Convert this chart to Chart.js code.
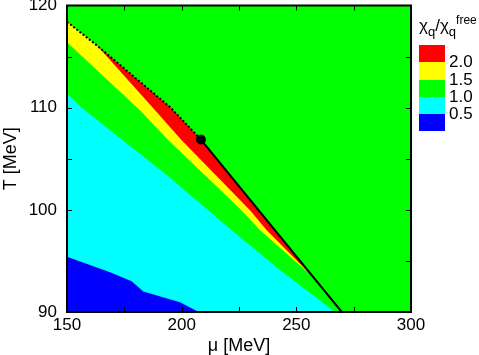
<!DOCTYPE html>
<html lang="en">
<head>
  <meta charset="UTF-8">
  <title>Susceptibility ratio</title>
  <script src="https://cdn.jsdelivr.net/npm/chart.js"></script>
  <style>
    body {
      margin: 0;
      background: #fff;
      font-family: "Liberation Sans", Arial, sans-serif;
    }
    .wrap {
      position: relative;
      width: 479px;
      height: 355px;
    }
    .legend-title {
      position: absolute;
      left: 419px;
      top: 16px;
      font-size: 17px;
      line-height: 20px;
      white-space: nowrap;
      color: #000;
    }
    .legend-title .sub {
      position: relative;
      top: 5px;
      font-size: 13px;
    }
    .legend-title .sup {
      position: relative;
      top: -7px;
      font-size: 12px;
    }
    .swatch {
      position: absolute;
      left: 419px;
      width: 26px;
    }
    .level {
      position: absolute;
      left: 449px;
      font-size: 17px;
      line-height: 17px;
      color: #000;
    }
  </style>
</head>
<body>
  <div class="wrap">
    <canvas id="chart" width="479" height="355"></canvas>
    <div class="legend-title">&chi;<span class="sub">q</span>/&chi;<span class="sub">q</span><span class="sup">free</span></div>
    <div id="legend"></div>
  </div>

  <script>
    // axis ranges and ticks
    const muMin = 150, muMax = 300;
    const tMin = 90, tMax = 120;
    const muLabels = [150, 200, 250, 300];
    const tLabels = [90, 100, 110, 120];

    // crossover line (dotted) and first-order line (solid), critical end point
    const crossMu = [150, 163, 180.4, 194.9, 208.4];
    const crossT = [118.4, 116.1, 112.8, 110.06, 106.88];
    const firstMu = [208.4, 269.8];
    const firstT = [106.88, 90];
    const cepMu = [208.4];
    const cepT = [106.88];

    // upper edges of each colour region (filled down to T = 90)
    const redTopMu = [150, 163, 180.4, 194.9, 208.4, 269.8];
    const redTopT = [118.4, 116.1, 112.8, 110.06, 106.88, 90];
    const yellowTopMu = [150, 163, 188.4, 200.0, 229.8, 237.1, 257, 269.8];
    const yellowTopT = [118.4, 116.1, 109.74, 106.8, 99.97, 98.0, 93.5, 90];
    const greenTopMu = [150, 181.8, 194.2, 225.4, 234.2, 257, 269.8];
    const greenTopT = [116.4, 109.74, 106.8, 100.1, 98.0, 93.5, 90];
    const cyanTopMu = [150, 156.4, 193.5, 221.8, 242.9, 266.9];
    const cyanTopT = [111.4, 110.0, 103.4, 98.0, 94.1, 90];
    const blueTopMu = [150, 168.8, 178.2, 183.3, 199.3, 207.5];
    const blueTopT = [95.4, 93.9, 93.0, 92.0, 90.95, 90];

    // legend
    const levelLabels = ['2.0', '1.5', '1.0', '0.5'];
    const levelColors = ['#ff0000', '#ffff00', '#00ff00', '#00ffff', '#0000ff'];

    const pts = (xs, ys) => xs.map((x, i) => ({ x: x, y: ys[i] }));

    function area(xs, ys, color, order) {
      return {
        data: pts(xs, ys),
        borderWidth: 0,
        borderColor: color,
        backgroundColor: color,
        pointRadius: 0,
        fill: 'start',
        order: order
      };
    }

    const datasets = [
      area([muMin, muMax], [tMax, tMax], '#00ff00', 10),
      area(redTopMu, redTopT, '#ff0000', 9),
      area(yellowTopMu, yellowTopT, '#ffff00', 8),
      area(greenTopMu, greenTopT, '#00ff00', 7),
      area(cyanTopMu, cyanTopT, '#00ffff', 6),
      area(blueTopMu, blueTopT, '#0000ff', 5),
      {
        data: pts(crossMu, crossT),
        borderColor: '#000',
        borderWidth: 2,
        borderDash: [2, 2],
        pointRadius: 0,
        fill: false,
        order: 2
      },
      {
        data: pts(firstMu, firstT),
        borderColor: '#000',
        borderWidth: 2,
        pointRadius: 0,
        fill: false,
        order: 1
      },
      {
        data: pts(cepMu, cepT),
        showLine: false,
        pointRadius: 4.5,
        pointBackgroundColor: '#000',
        pointBorderColor: '#000',
        fill: false,
        order: 0
      }
    ];

    // frame and inward tick marks on all four sides
    const framePlugin = {
      id: 'frame',
      afterDraw(chart) {
        const ctx = chart.ctx;
        const a = chart.chartArea;
        const xs = chart.scales.x, ys = chart.scales.y;
        ctx.save();
        ctx.strokeStyle = '#000';
        ctx.lineWidth = 1;
        ctx.beginPath();
        for (let v = muMin + 25; v < muMax; v += 25) {
          const px = Math.round(xs.getPixelForValue(v)) + 0.5;
          ctx.moveTo(px, a.bottom); ctx.lineTo(px, a.bottom - 5);
          ctx.moveTo(px, a.top); ctx.lineTo(px, a.top + 5);
        }
        for (let v = tMin + 5; v < tMax; v += 5) {
          const py = Math.round(ys.getPixelForValue(v)) + 0.5;
          ctx.moveTo(a.left, py); ctx.lineTo(a.left + 5, py);
          ctx.moveTo(a.right, py); ctx.lineTo(a.right - 5, py);
        }
        ctx.stroke();
        ctx.lineWidth = 2;
        ctx.strokeRect(a.left, a.top, a.right - a.left, a.bottom - a.top);
        ctx.restore();
      }
    };

    const gridColor = (labels) => (c) =>
      (c.tick && labels.includes(c.tick.value) && c.index > 0 && c.index < c.scale.ticks.length - 1)
        ? 'rgba(0,0,0,0.2)' : 'rgba(0,0,0,0)';

    new Chart(document.getElementById('chart'), {
      type: 'line',
      data: { datasets: datasets },
      options: {
        responsive: false,
        animation: false,
        events: [],
        layout: { padding: { top: 5, right: 68, bottom: 0, left: 0 } },
        plugins: {
          legend: { display: false },
          tooltip: { enabled: false }
        },
        scales: {
          x: {
            type: 'linear',
            min: muMin,
            max: muMax,
            z: 1,
            border: { display: false },
            grid: { color: gridColor(muLabels), lineWidth: 1, drawTicks: false },
            ticks: {
              stepSize: 25,
              autoSkip: false,
              maxRotation: 0,
              padding: 3,
              color: '#000',
              font: { family: 'Liberation Sans', size: 17 },
              callback: (v) => muLabels.includes(v) ? String(v) : ''
            },
            title: {
              display: true,
              text: 'μ [MeV]',
              color: '#000',
              padding: { top: 0, bottom: 0 },
              font: { family: 'Liberation Sans', size: 18, lineHeight: 1 }
            },
            afterFit(s) {
              s.height = 43;
              s.paddingLeft = 0;
              s.paddingRight = 0;
            }
          },
          y: {
            type: 'linear',
            min: tMin,
            max: tMax,
            z: 1,
            border: { display: false },
            grid: { color: gridColor(tLabels), lineWidth: 1, drawTicks: false },
            ticks: {
              stepSize: 5,
              autoSkip: false,
              padding: 10,
              color: '#000',
              font: { family: 'Liberation Sans', size: 17 },
              callback: (v) => tLabels.includes(v) ? String(v) : ''
            },
            title: {
              display: true,
              text: 'T [MeV]',
              color: '#000',
              padding: { top: 0, bottom: 0 },
              font: { family: 'Liberation Sans', size: 18 }
            },
            afterFit(s) {
              s.width = 67;
              s.paddingTop = 0;
              s.paddingBottom = 0;
            }
          }
        }
      },
      plugins: [framePlugin]
    });

    // colour key on the right
    const legend = document.getElementById('legend');
    const boxTop = 45, boxH = 17.25;
    levelColors.forEach((c, i) => {
      const d = document.createElement('div');
      d.className = 'swatch';
      d.style.top = (boxTop + i * boxH) + 'px';
      d.style.height = boxH + 'px';
      d.style.background = c;
      legend.appendChild(d);
    });
    levelLabels.forEach((t, i) => {
      const d = document.createElement('div');
      d.className = 'level';
      d.style.top = (boxTop + (i + 1) * boxH - 9) + 'px';
      d.textContent = t;
      legend.appendChild(d);
    });
  </script>
</body>
</html>
